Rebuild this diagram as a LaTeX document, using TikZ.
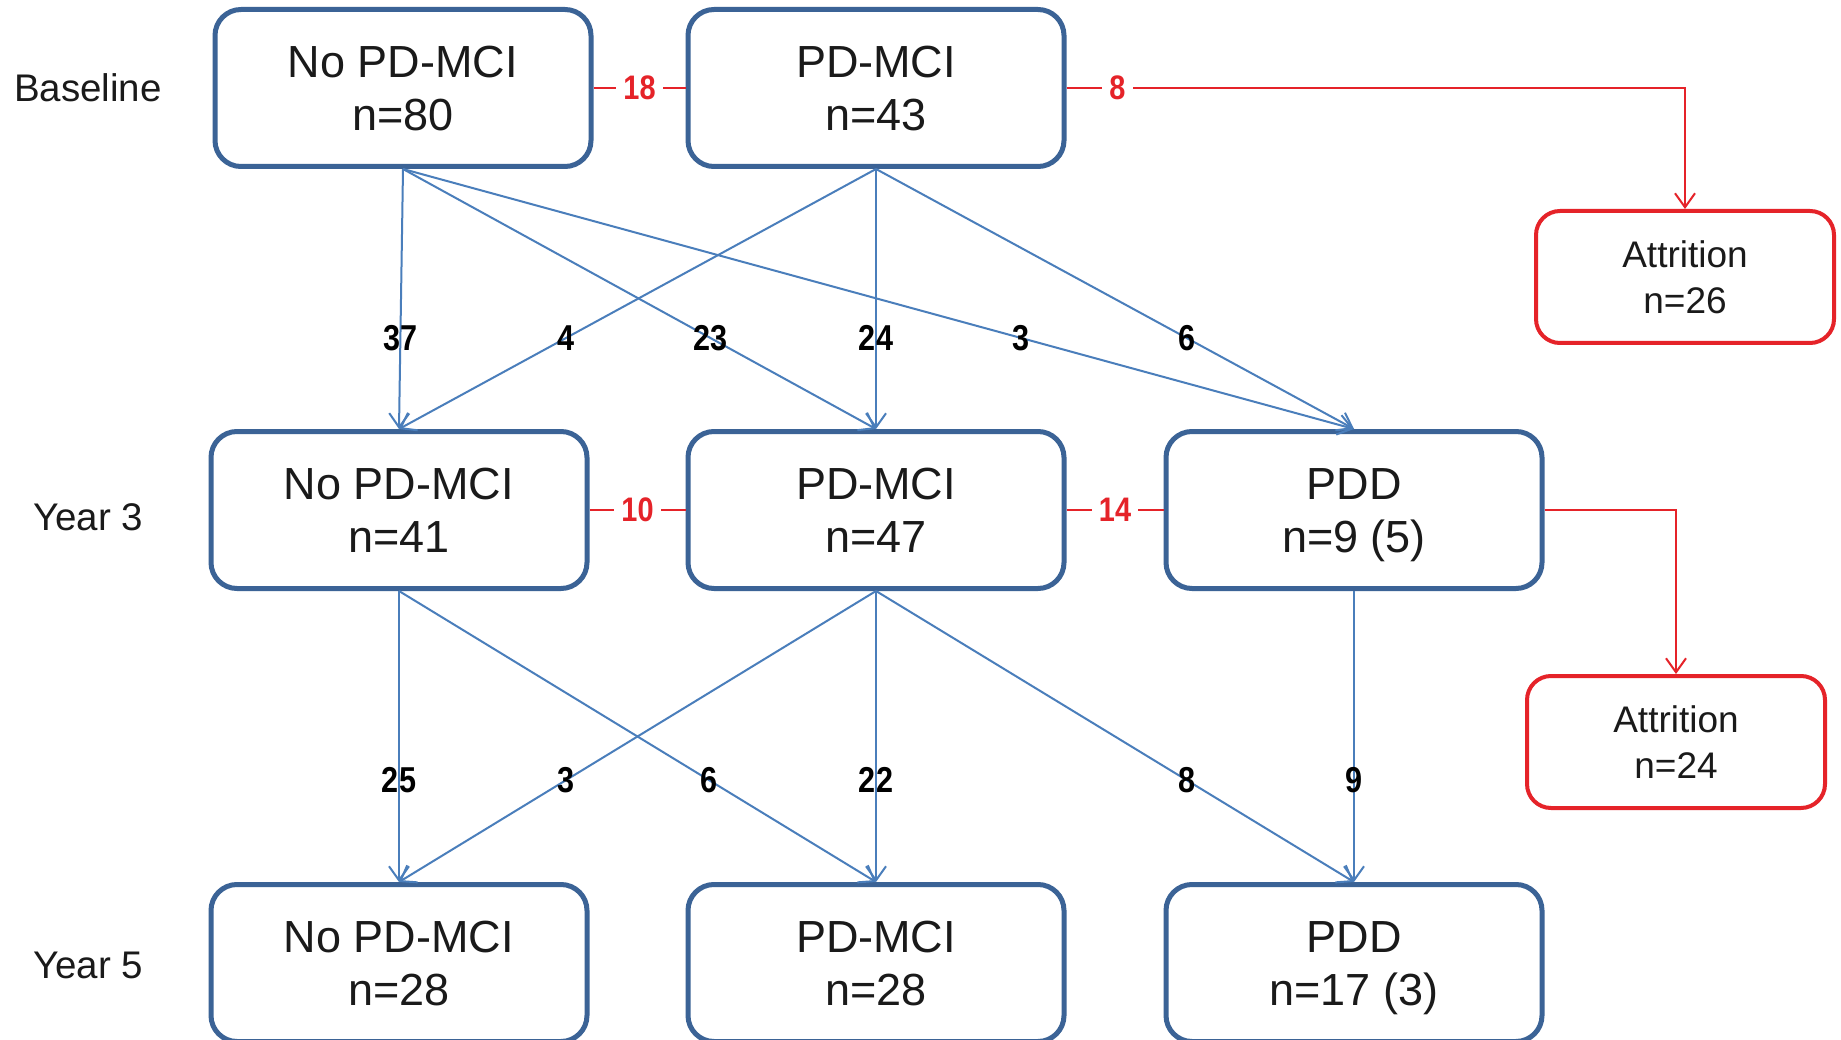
\documentclass[tikz,border=0pt]{standalone}
\usepackage{fontspec}
\setmainfont{Liberation Sans}
\newfontfamily\numfont[FakeStretch=0.85]{Liberation Sans}
\usetikzlibrary{arrows.meta}
\definecolor{boxblue}{HTML}{3B6396}
\definecolor{arrblue}{HTML}{4A7EBB}
\definecolor{attred}{HTML}{E52329}
\definecolor{txt}{HTML}{1A1A1A}
\newcommand{\boxlines}[2]{\rule[-10pt]{0pt}{52pt}#1\\\rule[-10pt]{0pt}{52pt}#2}
\newcommand{\attlines}[2]{\rule[-8.5pt]{0pt}{43.5pt}#1\\\rule[-8.5pt]{0pt}{43.5pt}#2}
\begin{document}
\begin{tikzpicture}[x=1pt,y=-1pt,
 state/.style={draw=boxblue, line width=5pt, rounded corners=26pt, minimum width=376pt, minimum height=157pt, align=center, font=\fontsize{45}{53}\selectfont, text=txt, inner sep=0pt},
 attr/.style={draw=attred, line width=4pt, rounded corners=24pt, minimum width=298pt, minimum height=132pt, align=center, font=\fontsize{37}{46}\selectfont, text=txt, inner sep=0pt},
 rowlab/.style={font=\fontsize{38.5}{44}\selectfont, text=txt},
 flow/.style={draw=arrblue, line width=2pt, -{Straight Barb[length=14pt,width=20pt,line width=2pt]}},
 flowlab/.style={font=\numfont\bfseries\fontsize{36}{36}\selectfont, pos=0.65, inner sep=0pt, text=black},
 drop/.style={draw=attred, line width=2pt},
 dropa/.style={drop, -{Straight Barb[length=14pt,width=20pt,line width=2pt]}},
 droplab/.style={font=\numfont\bfseries\fontsize{34}{34}\selectfont, text=attred, fill=white, inner sep=7pt}
]
\useasboundingbox (0,0) rectangle (1841,1040);
\fill[white] (0,0) rectangle (1841,1040);

% row labels
\node[rowlab] (lb) at (88,88) {Baseline};
\node[rowlab] (l3) at (88,517) {Year 3};
\node[rowlab] (l5) at (88,965) {Year 5};

% boxes
\node[state] (A) at (403,88) {\boxlines{No PD-MCI}{n=80}};
\node[state] (B) at (876,88) {\boxlines{PD-MCI}{n=43}};
\node[attr] (T1) at (1685,277) {\attlines{Attrition}{n=26}};
\node[state] (C) at (399,510) {\boxlines{No PD-MCI}{n=41}};
\node[state] (D) at (876,510) {\boxlines{PD-MCI}{n=47}};
\node[state] (E) at (1354,510) {\boxlines{PDD}{n=9 (5)}};
\node[attr] (T2) at (1676,742) {\attlines{Attrition}{n=24}};
\node[state] (F) at (399,963) {\boxlines{No PD-MCI}{n=28}};
\node[state] (G) at (876,963) {\boxlines{PD-MCI}{n=28}};
\node[state] (H) at (1354,963) {\boxlines{PDD}{n=17 (3)}};

% baseline -> year 3
\draw[flow] (A.south) -- node[flowlab]{37} (C.north);
\draw[flow] (A.south) -- node[flowlab]{23} (D.north);
\draw[flow] (A.south) -- node[flowlab]{3} (E.north);
\draw[flow] (B.south) -- node[flowlab]{4} (C.north);
\draw[flow] (B.south) -- node[flowlab]{24} (D.north);
\draw[flow] (B.south) -- node[flowlab]{6} (E.north);

% year 3 -> year 5
\draw[flow] (C.south) -- node[flowlab]{25} (F.north);
\draw[flow] (C.south) -- node[flowlab]{6} (G.north);
\draw[flow] (D.south) -- node[flowlab]{3} (F.north);
\draw[flow] (D.south) -- node[flowlab]{22} (G.north);
\draw[flow] (D.south) -- node[flowlab]{8} (H.north);
\draw[flow] (E.south) -- node[flowlab]{9} (H.north);

% red transitions
\draw[drop] (A.east) -- node[droplab]{18} (B.west);
\draw[dropa] (B.east) -| (T1.north);
\node[droplab] (r8) at ([xshift=51pt]B.east) {8};
\draw[drop] (C.east) -- node[droplab]{10} (D.west);
\draw[drop] (D.east) -- node[droplab]{14} (E.west);
\draw[dropa] (E.east) -| (T2.north);
\end{tikzpicture}
\end{document}
